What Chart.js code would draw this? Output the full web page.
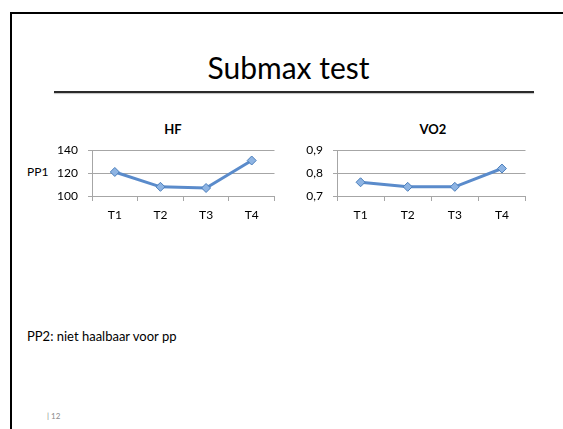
<!DOCTYPE html>
<html>
<head>
<meta charset="utf-8">
<script src="https://cdn.jsdelivr.net/npm/chart.js@4/dist/chart.umd.min.js"></script>
<style>
    html, body { margin: 0; padding: 0; background: #fff; }
    body { width: 563px; height: 429px; position: relative; overflow: hidden; font-family: 'Lato', sans-serif; color: #000; }
    .slide { position: absolute; left: 10px; top: 12px; width: 600px; height: 450px; border: 2px solid #000; box-sizing: border-box; }
    .rule { position: absolute; left: 54px; top: 91px; width: 480px; height: 2px; background: #2a2a2a; box-shadow: 0 1px 1px rgba(0,0,0,0.25); }
    .txt { position: absolute; white-space: nowrap; line-height: 1; }
    canvas { position: absolute; }
</style>
</head>
<body>
<div class="slide"></div>
<div class="txt" id="title" style="left:0; width:577px; text-align:center; top:52px; font-size:30px;">Submax test</div>
<div class="rule"></div>

<div class="txt" style="left:123px; width:100px; text-align:center; top:123px; font-size:13px; font-weight:bold;">HF</div>
<div class="txt" style="left:383px; width:100px; text-align:center; top:123px; font-size:13px; font-weight:bold;">VO2</div>
<div class="txt" style="left:27px; top:166px; font-size:12px;">PP1</div>

<canvas id="hfChart" width="230" height="93" style="left:50px; top:133px;"></canvas>
<canvas id="vo2Chart" width="241" height="93" style="left:290px; top:133px;"></canvas>

<div class="txt" style="left:27px; top:330px; font-size:13px;">PP2: niet haalbaar voor pp</div>
<div class="txt" style="left:47px; top:412px; font-size:8px; color:#8a8a8a;">| 12</div>

<script>
// Submax test - HF and VO2 per test moment
const categories = ['T1', 'T2', 'T3', 'T4'];
const hfValues = [121, 108, 107, 131];
const vo2Values = [0.76, 0.74, 0.74, 0.82];
const hfAxis = { min: 100, max: 140, step: 20 };
const vo2Axis = { min: 0.7, max: 0.9, step: 0.1 };

const lineColor = '#5a8bcb';
const gridColor = '#a6a6a6';
const fontSpec = { family: 'Lato', size: 12 };

function makeChart(id, values, axis, yWidth, formatTick) {
    const ctx = document.getElementById(id).getContext('2d');
    return new Chart(ctx, {
        type: 'line',
        data: {
            labels: categories,
            datasets: [{
                data: values,
                borderColor: lineColor,
                borderWidth: 3,
                tension: 0,
                fill: false,
                pointStyle: 'rectRot',
                pointRadius: 4.5,
                pointBackgroundColor: '#8eb4e3',
                pointBorderColor: '#4a7ebb',
                pointBorderWidth: 1
            }]
        },
        options: {
            responsive: false,
            animation: false,
            devicePixelRatio: 1,
            layout: { padding: { top: 10, right: 0, left: 0, bottom: 0 } },
            plugins: {
                legend: { display: false },
                tooltip: { enabled: false }
            },
            scales: {
                x: {
                    offset: true,
                    grid: {
                        offset: true,
                        drawOnChartArea: false,
                        drawTicks: true,
                        tickLength: 5,
                        color: gridColor
                    },
                    border: { display: true, color: gridColor },
                    ticks: { color: '#000', font: fontSpec, padding: 7 },
                    afterFit: function(scale) { scale.height = 30; }
                },
                y: {
                    min: axis.min,
                    max: axis.max,
                    grid: {
                        color: gridColor,
                        drawTicks: true,
                        tickLength: 4
                    },
                    border: { display: true, color: gridColor },
                    ticks: {
                        stepSize: axis.step,
                        color: '#000',
                        font: fontSpec,
                        padding: 10,
                        callback: formatTick
                    },
                    afterFit: function(scale) { scale.width = yWidth; }
                }
            }
        }
    });
}

makeChart('hfChart', hfValues, hfAxis, 42, function(value) { return value; });
makeChart('vo2Chart', vo2Values, vo2Axis, 47, function(value) {
    return value.toFixed(1).replace('.', ',');
});
</script>
</body>
</html>
